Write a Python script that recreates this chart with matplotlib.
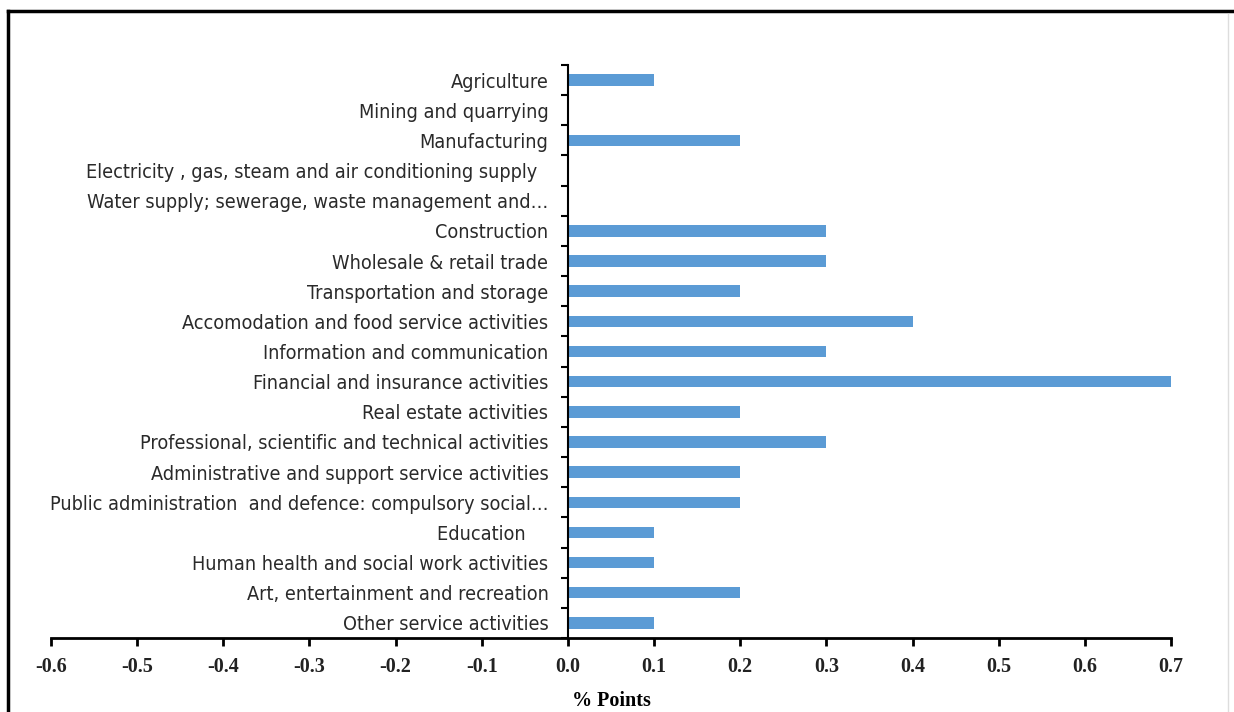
import matplotlib.pyplot as plt
from matplotlib import font_manager
from matplotlib.lines import Line2D
from matplotlib.ticker import FixedLocator

sectors = [
    "Agriculture",
    "Mining and quarrying",
    "Manufacturing",
    "Electricity , gas, steam and air conditioning supply  ",
    "Water supply; sewerage, waste management and\u2026",
    "Construction",
    "Wholesale & retail trade",
    "Transportation and storage",
    "Accomodation and food service activities",
    "Information and communication",
    "Financial and insurance activities",
    "Real estate activities",
    "Professional, scientific and technical activities",
    "Administrative and support service activities",
    "Public administration  and defence: compulsory social\u2026",
    "Education    ",
    "Human health and social work activities",
    "Art, entertainment and recreation",
    "Other service activities",
]
points = [0.1, 0.0, 0.2, 0.0, 0.0, 0.3, 0.3, 0.2, 0.4, 0.3,
          0.7, 0.2, 0.3, 0.2, 0.2, 0.1, 0.1, 0.2, 0.1]
xticks = [-0.6, -0.5, -0.4, -0.3, -0.2, -0.1, 0.0, 0.1, 0.2, 0.3, 0.4, 0.5, 0.6, 0.7]

# look for a narrow sans font file (Arial Narrow look), else plain Liberation Sans
narrow = None
for f in font_manager.fontManager.ttflist:
    low = f.fname.lower()
    if f.style == "normal" and f.weight in (400, "normal") and ("narrow" in low or "condensed" in low) \
            and ("liberation" in low or "dejavusans" in low):
        if narrow is None or "liberation" in low:
            narrow = f.fname
if narrow:
    label_font = font_manager.FontProperties(fname=narrow, size=14.2)
else:
    label_font = font_manager.FontProperties(family="Liberation Sans", size=13.5)

W, H = 1234, 712
fig = plt.figure(figsize=(W / 100, H / 100), dpi=100)
ax = fig.add_axes([51 / W, 1 - 638 / H, 1120 / W, (638 - 65) / H])

n = len(sectors)
ypos = list(range(n))
ax.barh(ypos, points, height=0.38, color="#5B9BD5", zorder=2)

ax.set_xlim(-0.6, 0.7)
ax.set_ylim(n - 0.5, -0.5)

ax.spines["top"].set_visible(False)
ax.spines["right"].set_visible(False)
ax.spines["left"].set_position(("data", 0))
ax.spines["left"].set_linewidth(1.5)
ax.spines["bottom"].set_linewidth(2)

ax.set_yticks(ypos)
ax.set_yticklabels(sectors, fontproperties=label_font, color="#2a2a2a")
ax.tick_params(axis="y", which="major", length=0, pad=14)
ax.yaxis.set_minor_locator(FixedLocator([k + 0.5 for k in range(-1, n)]))
ax.tick_params(axis="y", which="minor", length=5, width=1.5, direction="out")

ax.set_xticks(xticks)
ax.set_xticklabels([f"{v:.1f}" for v in xticks], family="Liberation Serif",
                   fontweight="bold", fontsize=14.5, color="#222222")
ax.tick_params(axis="x", length=6, width=2, direction="out", pad=8)
ax.set_xlabel("% Points", family="Liberation Serif", fontweight="bold",
              fontsize=14.5, labelpad=10)

# outer frame of the chart box
fig.add_artist(Line2D([8 / W, 8 / W], [0, 1 - 11 / H], color="black", lw=2.5,
                      transform=fig.transFigure))
fig.add_artist(Line2D([8 / W, 1], [1 - 11 / H, 1 - 11 / H], color="black", lw=2.5,
                      transform=fig.transFigure))
fig.add_artist(Line2D([1228 / W, 1228 / W], [0, 1 - 14 / H], color="#dddddd", lw=1,
                      transform=fig.transFigure))

fig.savefig("out.png", dpi=100)
